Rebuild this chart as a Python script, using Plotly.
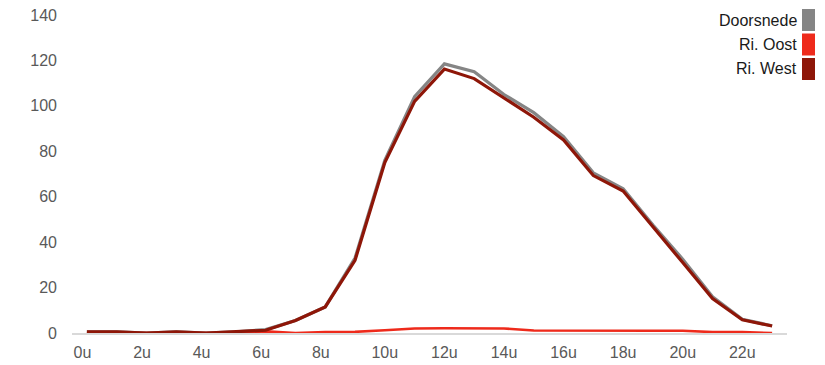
import plotly.graph_objects as go

hours = list(range(24))
tick_labels = [f"{h}u" for h in hours]
series_names = ["Doorsnede", "Ri. Oost", "Ri. West"]
doorsnede = [0.5, 0.5, 0, 0.5, 0, 0.5, 1.5, 5.5, 11.5, 33, 76, 104, 118.5, 115, 105, 97, 86.5, 70.5, 63.5, 47.5, 32.5, 16, 6, 3.2]
ri_oost = [0, 0, 0, 0, 0, 0, 0.7, 0, 0.4, 0.5, 1.2, 2, 2.1, 2.1, 2, 1.1, 1, 1, 1, 1, 1, 0.4, 0.4, 0]
ri_west = [0.5, 0.5, 0, 0.5, 0, 0.5, 1.2, 5.5, 11.5, 32, 75, 102, 116.2, 112, 103.5, 95, 85, 69.3, 62.5, 46.5, 31, 15.2, 5.8, 3.1]
y_ticks = [0, 20, 40, 60, 80, 100, 120, 140]

colors = {"Doorsnede": "#858585", "Ri. Oost": "#EE2A1B", "Ri. West": "#8E1608"}
values = {"Doorsnede": doorsnede, "Ri. Oost": ri_oost, "Ri. West": ri_west}
widths = {"Doorsnede": 3.2, "Ri. Oost": 2.6, "Ri. West": 3.2}

W, H = 825, 365
L, R, T, B = 72, 38, 15, 32

fig = go.Figure()
for name in series_names:
    fig.add_trace(go.Scatter(
        x=hours, y=values[name], mode="lines", name=name,
        line=dict(color=colors[name], width=widths[name]),
        showlegend=False, hoverinfo="x+y+name",
    ))

# single-digit labels sit slightly left of their point in the reference
shown_ticks = hours[::2]
shown_text = [tick_labels[h] + ("\u2007" if h < 10 else "") for h in shown_ticks]

font = "Liberation Sans, Arial, Helvetica, sans-serif"
fig.update_layout(
    width=W, height=H,
    margin=dict(l=L, r=R, t=T, b=B, autoexpand=False),
    paper_bgcolor="white", plot_bgcolor="white",
    font=dict(family=font, size=16, color="#595959"),
    xaxis=dict(
        range=[-0.5, 23.5], tickmode="array", tickvals=shown_ticks,
        ticktext=shown_text, showgrid=False, zeroline=False,
        showline=True, linecolor="#D9D9D9", linewidth=1.5,
        ticks="", ticklabelstandoff=4,
    ),
    yaxis=dict(
        range=[0, 140], tickvals=y_ticks, showgrid=False, zeroline=False,
        showline=False, ticks="", ticklabelstandoff=14,
    ),
)

plot_w = W - L - R
plot_h = H - T - B
sq_w, sq_h, gap = 13, 22, 24.5
sq_left_px = 802
text_right_px = 797
first_center_px = 20
for i, name in enumerate(series_names):
    cy = first_center_px + i * gap
    y0 = (H - B - (cy + sq_h / 2)) / plot_h
    y1 = (H - B - (cy - sq_h / 2)) / plot_h
    x0 = (sq_left_px - L) / plot_w
    x1 = (sq_left_px + sq_w - L) / plot_w
    fig.add_shape(type="rect", xref="paper", yref="paper", x0=x0, x1=x1, y0=y0, y1=y1,
                  fillcolor=colors[name], line=dict(width=0))
    fig.add_annotation(xref="paper", yref="paper", x=(text_right_px - L) / plot_w,
                       y=(H - B - cy) / plot_h, text=name, showarrow=False,
                       xanchor="right", yanchor="middle", xshift=2,
                       font=dict(family=font, size=16, color="#1A1A1A"))

fig.write_html("out.html", config={"displayModeBar": False},
               post_script="document.body.style.margin='0px';document.body.style.overflow='hidden';")
